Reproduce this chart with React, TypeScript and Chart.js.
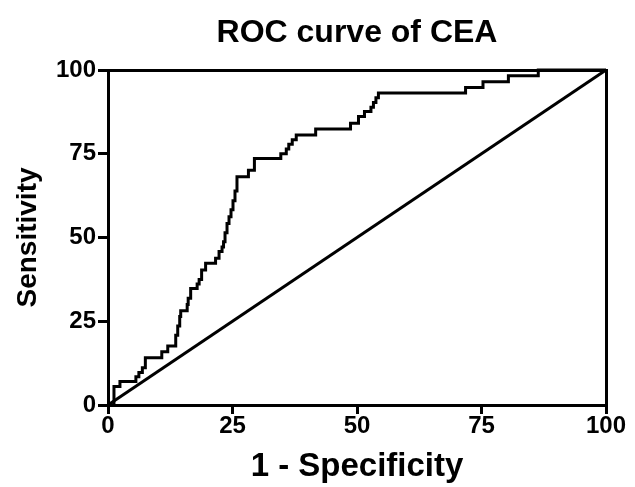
import { useEffect, useRef } from "react";
import { Chart, registerables } from "chart.js";

Chart.register(...registerables);

// ROC curve points (1 - Specificity %, Sensitivity %)
const fprValues = [
  0, 1.2, 2.4, 5.6, 6.2, 6.9, 7.5, 10.8, 12.0, 13.6, 14.0, 14.4, 14.6, 15.9, 16.1,
  16.6, 17.9, 18.3, 18.8, 19.6, 21.6, 22.3, 22.9, 23.2, 23.5, 23.9, 24.3, 24.7,
  25.1, 25.5, 25.9, 28.2, 29.4, 34.7, 35.8, 36.3, 37.0, 37.8, 41.7, 48.7, 50.3,
  51.5, 52.8, 53.3, 53.8, 54.3, 71.8, 75.3, 80.4, 86.4, 100,
];
const tprValues = [
  0, 5.5, 7.0, 8.4, 9.7, 11.1, 14.1, 15.9, 17.6, 20.8, 23.6, 26.4, 28.1, 30.0, 31.9,
  34.8, 36.1, 37.5, 40.3, 42.3, 43.8, 45.8, 47.2, 48.7, 51.4, 54.2, 56.2, 58.3,
  61.0, 63.9, 68.1, 70.1, 73.6, 75.0, 76.4, 77.8, 79.2, 80.6, 82.4, 84.1, 86.1,
  87.6, 88.9, 90.3, 91.7, 93.1, 94.8, 96.5, 98.3, 100, 100,
];
const referenceX = [0, 100];
const referenceY = [0, 100];
const tickValues = [0, 25, 50, 75, 100];

const FONT = "'Liberation Sans', Arial, Helvetica, sans-serif";

export default function App() {
  const ref = useRef<HTMLCanvasElement>(null);

  useEffect(() => {
    document.body.style.margin = "0";
    const canvas = ref.current;
    if (!canvas) return;

    const setTicks = (s: any) => {
      s.ticks = tickValues.map((v) => ({ value: v }));
    };

    const chart = new Chart(canvas, {
      type: "line",
      data: {
        datasets: [
          {
            data: fprValues.map((x, i) => ({ x, y: tprValues[i] })),
            stepped: "before",
            borderColor: "#000",
            borderWidth: 3,
            pointRadius: 0,
            fill: false,
            clip: false,
          } as any,
          {
            data: referenceX.map((x, i) => ({ x, y: referenceY[i] })),
            borderColor: "#000",
            borderWidth: 3,
            pointRadius: 0,
            fill: false,
            clip: false,
          } as any,
        ],
      },
      options: {
        animation: false,
        responsive: false,
        layout: { padding: 0 },
        plugins: {
          legend: { display: false },
          tooltip: { enabled: false },
          title: {
            display: true,
            text: "ROC curve of CEA",
            fullSize: false,
            color: "#000",
            font: { family: FONT, size: 32, weight: "bold" },
            padding: { top: 14, bottom: 17.6 },
          },
        },
        scales: {
          x: {
            type: "linear",
            position: "bottom",
            min: 0,
            max: 100,
            afterBuildTicks: setTicks,
            afterFit: (s: any) => {
              s.height = 82;
            },
            ticks: {
              color: "#000",
              font: { family: FONT, size: 24, weight: "bold" },
              padding: -2,
              maxRotation: 0,
            },
            grid: {
              drawOnChartArea: false,
              color: "#000",
              lineWidth: 3,
              tickLength: 9,
            },
            border: { color: "#000", width: 3 },
            title: {
              display: true,
              text: "1 - Specificity",
              color: "#000",
              font: { family: FONT, size: 33, weight: "bold" },
              padding: { top: 0, bottom: 0 },
            },
          },
          x2: {
            type: "linear",
            position: "top",
            min: 0,
            max: 100,
            afterFit: (s: any) => {
              s.height = 0;
            },
            ticks: { display: false },
            grid: { display: false, drawTicks: false },
            border: { color: "#000", width: 3 },
          },
          y: {
            type: "linear",
            position: "left",
            min: 0,
            max: 100,
            afterBuildTicks: setTicks,
            afterFit: (s: any) => {
              s.width = 108;
            },
            ticks: {
              color: "#000",
              font: { family: FONT, size: 24, weight: "bold" },
              padding: 2,
            },
            grid: {
              drawOnChartArea: false,
              color: "#000",
              lineWidth: 3,
              tickLength: 10,
            },
            border: { color: "#000", width: 3 },
            title: {
              display: true,
              text: "Sensitivity",
              color: "#000",
              font: { family: FONT, size: 28, weight: "bold" },
              padding: { top: 11, bottom: 0 },
            },
          },
          y2: {
            type: "linear",
            position: "right",
            min: 0,
            max: 100,
            afterFit: (s: any) => {
              s.width = 29;
            },
            ticks: { display: false },
            grid: { display: false, drawTicks: false },
            border: { color: "#000", width: 3 },
          },
        },
      } as any,
    });

    return () => chart.destroy();
  }, []);

  return (
    <canvas
      ref={ref}
      width={635}
      height={487}
      style={{ display: "block", width: 635, height: 487 }}
    />
  );
}
